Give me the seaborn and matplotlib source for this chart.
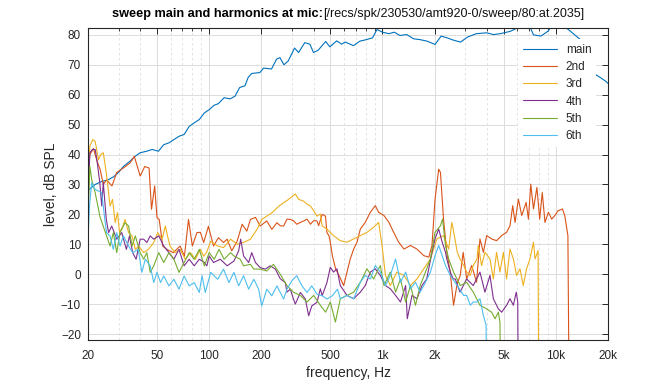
import numpy as np
import pandas as pd
import seaborn as sns
import matplotlib.pyplot as plt
from matplotlib.ticker import FixedLocator, LogLocator, NullFormatter

# values (Hz, dB SPL)
main_f = [20, 22, 24, 26, 28, 30, 32, 35, 37.4, 40, 43.6, 46.9, 51, 54.7, 58.6, 62.6, 67, 71.7,
          76.7, 82, 87.7, 93.8, 100, 107, 113, 122, 132, 141, 150, 161, 168, 176, 196, 206, 229,
          245, 256, 270, 286, 311, 328, 356, 381, 400, 426, 470, 497, 544, 581, 610, 680, 740,
          805, 875, 930, 1000, 1090, 1170, 1260, 1380, 1510, 1650, 1810, 2010, 2180, 2360, 2580,
          2820, 3100, 3480, 3990, 4370, 4780, 5470, 5990, 6500, 7000, 7430, 8200, 9000, 9500,
          10500, 11800, 12800, 14000, 15100, 15800, 16200, 16900, 18100, 19300, 20000]
main_db = [28, 30, 31, 31.5, 32.5, 34, 36, 37.8, 39.4, 40.6, 41.1, 41.7, 41.1, 43.3, 43.9, 45, 46.1,
           46.7, 49.4, 50.6, 51.7, 53.9, 55, 56.5, 57, 59, 58.6, 59.5, 62.4, 63, 65.8, 67.1, 67.4,
           68.9, 68.6, 71.9, 72.4, 70, 71.3, 75.6, 74.1, 77.4, 76.9, 74.1, 74.9, 77.8, 76, 78,
           76.9, 77.6, 76.4, 77.9, 78.4, 79, 81.8, 80.9, 80.4, 80.9, 79.8, 80.1, 78.7, 78.4, 77.9,
           76.8, 79.6, 79, 78.2, 77.6, 79.3, 80.4, 80.7, 80.1, 80.4, 81.2, 82.3, 83, 83.5, 80,
           79.6, 81.2, 83, 84, 81.8, 80.1, 78.2, 75, 71.8, 69.6, 66.8, 65.7, 64.6, 63.8]

h2_f = [20, 20.5, 21.5, 22.5, 23.5, 24.5, 25.6, 27.5, 29.3, 32, 35, 37, 40, 42.5, 45, 46.5, 48.5,
        50, 51.5, 54, 57, 62, 68, 72, 76, 80, 85, 89, 93, 99, 106, 113, 121, 127, 135, 145, 155,
        165, 173, 185, 197, 215, 230, 246, 257, 269, 281, 294, 306, 320, 336, 351, 367, 384, 401,
        419, 428, 449, 469, 478, 491, 500, 514, 537, 562, 597, 624, 652, 682, 713, 745, 795, 851,
        909, 950, 1020, 1090, 1160, 1240, 1330, 1450, 1580, 1730, 1850, 1930, 2010, 2110, 2160,
        2250, 2350, 2460, 2570, 2700, 2810, 2920, 3060, 3270, 3490, 3650, 3820, 3990, 4260, 4550,
        4870, 5200, 5440, 5640, 5820, 6080, 6360, 6740, 6950, 7170, 7430, 7780, 8070, 8350, 8660,
        9060, 9470, 9880, 10300, 10920, 11260, 11740, 12000]
h2_db = [33, 40, 42, 38, 35, 30, 31.5, 29.5, 34, 35.5, 37.2, 39.4, 32.8, 36, 35.5, 21.7, 29.5,
         18.9, 18.3, 9.4, 8.3, 7.2, 9.4, 6, 18.3, 9.4, 13.9, 14, 10.6, 16, 9.4, 12.2, 10.6, 11.7,
         7.8, 11, 16.7, 14.4, 18.3, 19, 16.1, 17.8, 15, 17.2, 16.2, 16.1, 18.4, 18.3, 17.9, 16.7,
         17.3, 17.8, 18.4, 16.7, 17.9, 17.8, 16.2, 20, 19.4, 14, 12.8, 10.7, 6.1, 1.7, -0.5, -3.8,
         0.7, 5.1, 8.4, 10.7, 15.1, 17.3, 20.7, 22.9, 20.7, 19.6, 17.3, 14, 10.7, 8.4, 9.6, 8.4,
         6.2, 5.7, 9.6, 25.1, 35.1, 34, 18.4, 7.3, 0.7, -10.4, -3, -0.4, 7.3, -1.6, 2.9, -2.7,
         11.8, 7.3, 12.9, 11.8, 11.2, 12.9, 14, 16.2, 22.9, 17.3, 25.1, 19.6, 24, 18.4, 30.1, 21.8,
         29, 18.4, 27.3, 17.3, 20.7, 18.4, 19.6, 21.2, 21.8, 19.6, 12.9, -60]

h3_f = [20, 20.5, 21.3, 22, 23, 23.7, 24.5, 25.5, 26.3, 26.8, 27.7, 28.7, 29.6, 30.4, 31.8, 32.7,
        34.3, 35.9, 37.5, 39.3, 41.9, 44.6, 47.9, 50.5, 53.5, 55.9, 57.5, 59.5, 63.6, 68, 72.8,
        78, 83.3, 89, 93, 97, 102, 112, 121, 133, 145, 158, 173, 189, 201, 215, 230, 253, 269,
        287, 314, 329, 351, 367, 384, 401, 419, 438, 449, 478, 491, 522, 571, 624, 682, 745, 814,
        889, 950, 994, 1040, 1110, 1210, 1330, 1450, 1580, 1730, 1890, 2060, 2250, 2410, 2510,
        2560, 2700, 2800, 2940, 3060, 3210, 3340, 3510, 3570, 3730, 3900, 4170, 4360, 4550, 4760,
        4980, 5200, 5440, 5690, 5940, 6210, 6490, 6780, 7090, 7430, 7590, 7900, 8000]
h3_db = [32.8, 42.8, 45, 44.4, 38.3, 40, 40.6, 33.9, 27.2, 22.8, 25, 17.2, 20.6, 13.9, 16.1, 18.3,
         13.9, 12.8, 8.3, 9.4, 7.2, 8.3, 10.6, 13.9, 11.7, 16.1, 12.8, 9.4, 7.2, 8.3, 5, 7.2, 5,
         8.3, 6, 7.5, 11, 9.4, 8.9, 11.7, 10, 10.6, 11.7, 15, 18.3, 19.4, 20.5, 22.8, 23.9, 25,
         26.8, 25, 24.4, 23.4, 22.8, 21.2, 19.4, 20.1, 16.1, 15.1, 14.4, 12.9, 11.2, 10.7, 11.8,
         12.9, 14, 15.7, 17.3, 9.6, -0.4, -3.8, 0.7, -0.4, -3.8, -1.6, 1.8, 5.1, 11.8, 12.9, 8.4,
         17.3, 15, 7.3, 5.1, 2.9, 0.7, -0.4, 2.9, 5.1, 9.6, 2.9, 7.3, 5.1, -1.6, 7.3, 0.7, 7.3,
         -1.6, 8.4, 5.1, -0.4, 1.8, -3.8, 1.8, 5.1, 10.7, 5.1, 7.9, -60]

h4_f = [20, 20.5, 21.2, 22, 22.5, 23.4, 24, 24.5, 25.5, 26.3, 27.4, 29.3, 31.3, 33.3, 34.7, 36.2,
        37.9, 40, 41.9, 43.7, 45.7, 47.9, 51.2, 54.7, 58.6, 62.6, 67, 71.7, 76.7, 82, 87.7, 93.8,
        97, 100, 106, 116, 127, 139, 148, 152, 158, 169, 176, 185, 197, 211, 225, 241, 257, 275,
        281, 294, 306, 314, 336, 359, 375, 391, 419, 438, 449, 478, 500, 522, 546, 571, 624, 682,
        745, 795, 851, 909, 971, 1040, 1110, 1190, 1270, 1360, 1390, 1480, 1580, 1690, 1800, 1930,
        2010, 2110, 2210, 2310, 2350, 2460, 2560, 2630, 2800, 3060, 3340, 3650, 3900, 4170, 4360,
        4660, 4870, 5200, 5440, 5690, 5910, 6030, 6100]
h4_db = [24.4, 40.6, 41.7, 41.7, 38.3, 30.6, 22.8, 30.6, 18.3, 13.9, 16.1, 11.7, 13.9, 8.3, 12.8,
         7.2, 5, 11.7, 11.7, 10.6, 12.8, 11.7, 12.8, 9.4, 7.2, 5, 8.3, 2.8, 5, 2.8, 5, 3.9, 2.8,
         6.1, 3.9, 5, 2.8, 4.4, 7.8, 11.7, 6.1, 3.9, 7.2, 3.9, 2.2, 1.7, 2.8, 1.7, -1.5, -2.8, -6,
         -5, -8.2, -10, -6.1, -8.3, -13.9, -10.6, -9.4, -4.9, -7.2, -2.8, 2.3, 0.7, 1.8, -3.8,
         -7.1, -8.2, -6, -3.8, 0.7, 1.8, -0.4, -3.8, -4.9, -7.1, -9.3, -3.8, -14.9, -7.1, -8.2,
         -3.8, -1.6, 7.3, 11.8, 15.1, 10.7, 7.3, 5.1, 0.7, -1.6, -1.6, -6, -1.6, -3.8, 0.7, -6,
         -0.4, -8.2, -11.6, -12.7, -10.4, -8.2, -10.4, -6, -9.3, -60]

h5_f = [20, 20.5, 21, 22, 23, 23.4, 24.5, 25.6, 26.8, 28, 29.3, 30.6, 32.7, 34.3, 35.9, 37.5, 40,
        41.9, 43.7, 45.7, 47.9, 51.2, 54.7, 58.6, 62.6, 67, 71.7, 76.7, 82, 87.7, 93.8, 100, 107,
        114, 122, 133, 139, 151, 158, 173, 181, 197, 215, 235, 257, 281, 306, 336, 367, 401, 438,
        470, 500, 535, 571, 624, 682, 745, 814, 889, 971, 1020, 1110, 1190, 1270, 1360, 1450,
        1550, 1650, 1770, 1890, 2010, 2160, 2220, 2310, 2410, 2570, 2810, 3060, 3340, 3650, 3990,
        4260, 4460, 4660, 4760, 4850]
h5_db = [18.3, 36, 31.7, 27.2, 21.7, 19.4, 16, 12.8, 9.4, 13.9, 7.2, 13.9, 17.2, 16.1, 9.4, 12.8,
         7.2, 5, 7.2, 0.6, 2.8, 7.2, 3.9, 7.2, 5, 0.6, 3.9, 7.2, 5, 8.3, 2.8, 7.2, 5, 8.3, 5, 7.2,
         6.1, 5, 2.8, 3.3, 1.7, 1.7, 1.1, 3.3, 0, -3.8, -6, -7.1, -9.3, -7.1, -10.4, -12.7, -9.3,
         -16, -8.2, -7.1, -6, -2.7, 1.8, -1.6, 2.9, -3.8, 0.7, -6, -1.6, -9.3, -3.8, -10.4, -3.8,
         0.7, 5.1, 14, 16.2, 18.4, 9.6, 5.1, 0.7, -3.8, -2.7, -6, -10.4, -11.6, -12.7, -14.9,
         -12.7, -16, -60]

h6_f = [20, 20.4, 21, 22, 23, 24, 25, 25.6, 26.8, 28, 29.3, 30.6, 32, 34.3, 36.2, 39, 40.9, 42.8,
        45.7, 47.9, 50, 52.4, 54.7, 58.6, 62.6, 67, 71.7, 76.7, 82, 87.7, 91, 95, 102, 112, 121,
        130, 139, 148, 158, 169, 181, 193, 201, 215, 230, 246, 269, 281, 300, 320, 343, 367, 391,
        419, 449, 478, 514, 550, 571, 624, 682, 745, 795, 851, 909, 971, 1040, 1110, 1190, 1270,
        1360, 1450, 1550, 1650, 1770, 1890, 2010, 2110, 2210, 2310, 2460, 2700, 2940, 3060, 3210,
        3340, 3510, 3650, 3820, 3960, 4000]
h6_db = [11.7, 22.8, 30.6, 28.3, 27.8, 27.2, 18.3, 13.9, 12.8, 8.3, 13.9, 9.4, 12.8, 9.4, 7.2, 8.3,
         0.6, 5, 2.8, -2.8, 0.6, -2.8, -0.6, -3.9, -1.7, -5, -0.6, -3.9, -2.8, -6.1, -0.5, -6.1,
         0.6, -1.7, 1.7, -2.8, 0.6, -3.9, -0.5, -5, -1.7, -5, -10.6, -5, -7.2, -3.9, -8.3, -5,
         -2.2, -0.5, -3.9, -6.1, -3.9, -6.7, -7.2, -8.3, -7.2, -5, -8.2, -7.1, -8.2, -2.7, -0.4,
         -1.6, 2.9, 0.7, -3.8, -0.4, 5.1, -2.7, 0.7, -4.9, -2.7, -6, -2.7, 0.7, 6.2, 9.6, 6.2, 2.9,
         -0.4, -3.8, -7.1, -7.1, -10.4, -9.3, -9.3, -8.2, -13.8, -17, -60]

names = ["main", "2nd", "3rd", "4th", "5th", "6th"]
colors = ["#0072BD", "#D95319", "#EDB120", "#7E2F8E", "#77AC30", "#4DBEEE"]
xticks = [20, 50, 100, 200, 500, 1000, 2000, 5000, 10000, 20000]
xticklabels = ["20", "50", "100", "200", "500", "1k", "2k", "5k", "10k", "20k"]
yticks = list(range(-20, 81, 10))

series = [(main_f, main_db), (h2_f, h2_db), (h3_f, h3_db), (h4_f, h4_db), (h5_f, h5_db), (h6_f, h6_db)]
df = pd.concat([pd.DataFrame({"freq": f, "level": d, "curve": n})
                for n, (f, d) in zip(names, series)], ignore_index=True)

sns.set_theme(style="white")
plt.rcParams['font.family'] = ['Liberation Sans', 'DejaVu Sans']

fig = plt.figure(figsize=(6.72, 3.84), dpi=100)
ax = fig.add_axes([88/672, 44/384, 520/672, 312/384])

sns.lineplot(data=df, x="freq", y="level", hue="curve", hue_order=names,
             palette=dict(zip(names, colors)), estimator=None, sort=False,
             linewidth=0.8, ax=ax)

ax.set_xscale("log")
ax.set_xlim(20, 20000)
ax.set_ylim(-22, 82.3)
ax.xaxis.set_major_locator(FixedLocator(xticks))
ax.set_xticklabels(xticklabels)
ax.xaxis.set_minor_locator(LogLocator(base=10, subs=np.arange(2, 10)))
ax.xaxis.set_minor_formatter(NullFormatter())
ax.set_yticks(yticks)

ax.set_axisbelow(True)
ax.grid(True, which="major", color="#dcdcdc", linewidth=0.7)
ax.grid(True, which="minor", axis="x", color="#dedede", linewidth=0.6, linestyle=(0, (3, 3)))

ax.tick_params(which="both", direction="in", top=True, right=True, colors="#262626",
               labelsize=8.5)
ax.tick_params(which="major", length=4, width=0.7)
ax.tick_params(which="minor", length=2, width=0.6)
ax.tick_params(axis="x", pad=7)
ax.tick_params(axis="y", pad=5)
for s in ax.spines.values():
    s.set_color("#262626")
    s.set_linewidth(0.8)

ax.set_xlabel("frequency, Hz", fontsize=10, color="#262626", labelpad=3)
ax.set_ylabel("level, dB SPL", fontsize=10, color="#262626", labelpad=2)

handles, labels = ax.get_legend_handles_labels()
ax.legend(handles, labels, loc="upper left", bbox_to_anchor=(0.827, 0.965), borderaxespad=0,
          fontsize=8.5, handlelength=2.9, handletextpad=0.75, labelspacing=0.45,
          frameon=True, facecolor="white", edgecolor="none", framealpha=1, fancybox=False,
          borderpad=0.4)

fig.text(323/672, 1 - 14/384, "sweep main and harmonics at mic:", ha="right", va="center",
         fontsize=9.2, fontweight="bold", color="black")
fig.text(323/672, 1 - 14/384, "[/recs/spk/230530/amt920-0/sweep/80:at.2035]", ha="left",
         va="center", fontsize=9, color="#111111")

fig.savefig("out.png", dpi=100, facecolor="white")
